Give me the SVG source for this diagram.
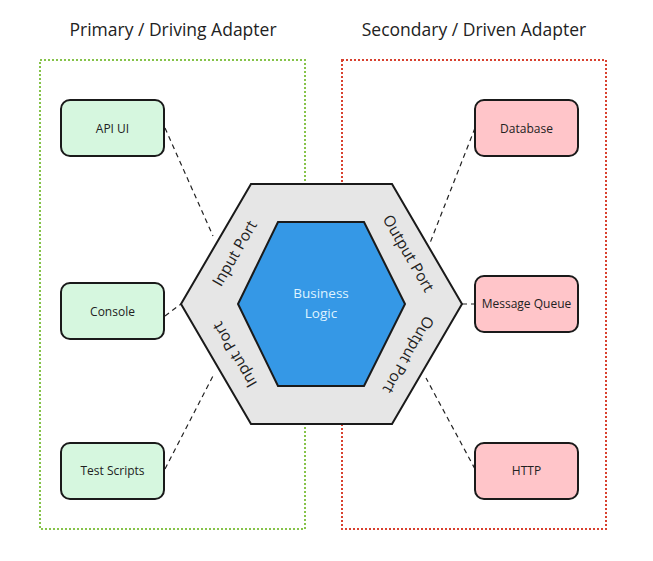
<svg xmlns="http://www.w3.org/2000/svg" width="653" height="561" viewBox="0 0 653 561">
<style>
.title{font-family:"Open Sans","Liberation Sans",sans-serif;font-size:17.5px;fill:#222;text-anchor:middle}
.lbl{font-family:"Open Sans","Liberation Sans",sans-serif;font-size:12px;fill:#222;text-anchor:middle;dominant-baseline:central}
.port{font-family:"Open Sans","Liberation Sans",sans-serif;font-size:15.5px;fill:#222;text-anchor:middle;dominant-baseline:central}
.biz{font-family:"Open Sans","Liberation Sans",sans-serif;font-size:13.5px;fill:#dff3ff;text-anchor:middle}
.pri{fill:#d6f7df;stroke:#1a1a1a;stroke-width:2}
.sec{fill:#ffc5c9;stroke:#1a1a1a;stroke-width:2}
.conn line{stroke:#222;stroke-width:1.2;stroke-dasharray:5 4}
</style>
<rect width="653" height="561" fill="#fff"/>
<g id="primary-group">
<rect x="40" y="60" width="265" height="469" fill="none" stroke="#86c34a" stroke-width="2" stroke-dasharray="2 2"/>
<text class="title" x="173" y="36">Primary / Driving Adapter</text>
</g>
<g id="secondary-group">
<rect x="342" y="60" width="264" height="469" fill="none" stroke="#d8412f" stroke-width="2" stroke-dasharray="2 2"/>
<text class="title" x="474" y="36">Secondary / Driven Adapter</text>
</g>
<g id="connectors" class="conn">
<line x1="165" y1="128" x2="213" y2="236"/>
<line x1="165" y1="316" x2="181" y2="304"/>
<line x1="165" y1="469" x2="213" y2="376"/>
<line x1="475" y1="128" x2="430" y2="243"/>
<line x1="462" y1="304" x2="475" y2="304"/>
<line x1="475" y1="469" x2="426" y2="378"/>
</g>
<g id="hexagon">
<polygon points="251,184 392,184 462,304 392,424 251,424 181,304" fill="#e6e6e6" stroke="#1a1a1a" stroke-width="2"/>
<text class="port" transform="translate(234,253) rotate(-60)">Input Port</text>
<text class="port" transform="translate(409,253) rotate(60)">Output Port</text>
<text class="port" transform="translate(234,355) rotate(-120)">Input Port</text>
<text class="port" transform="translate(409,355) rotate(120)">Output Port</text>
</g>
<g id="business-logic">
<polygon points="278,222 364,222 405,304 364,386 278,386 238,304" fill="#3598e6" stroke="#1a1a1a" stroke-width="2"/>
<text class="biz" x="321" y="298">Business</text>
<text class="biz" x="321" y="318">Logic</text>
</g>
<g id="api-ui"><rect class="pri" x="61" y="100" width="103" height="56" rx="9"/><text class="lbl" x="112.5" y="128">API UI</text></g>
<g id="console"><rect class="pri" x="61" y="283" width="103" height="56" rx="9"/><text class="lbl" x="112.5" y="311">Console</text></g>
<g id="test-scripts"><rect class="pri" x="61" y="443" width="103" height="56" rx="9"/><text class="lbl" x="112.5" y="470">Test Scripts</text></g>
<g id="database"><rect class="sec" x="475" y="100" width="103" height="56" rx="9"/><text class="lbl" x="526.5" y="128">Database</text></g>
<g id="message-queue"><rect class="sec" x="475" y="276" width="103" height="56" rx="9"/><text class="lbl" x="526.5" y="303">Message Queue</text></g>
<g id="http"><rect class="sec" x="475" y="443" width="103" height="56" rx="9"/><text class="lbl" x="526.5" y="470">HTTP</text></g>
</svg>
